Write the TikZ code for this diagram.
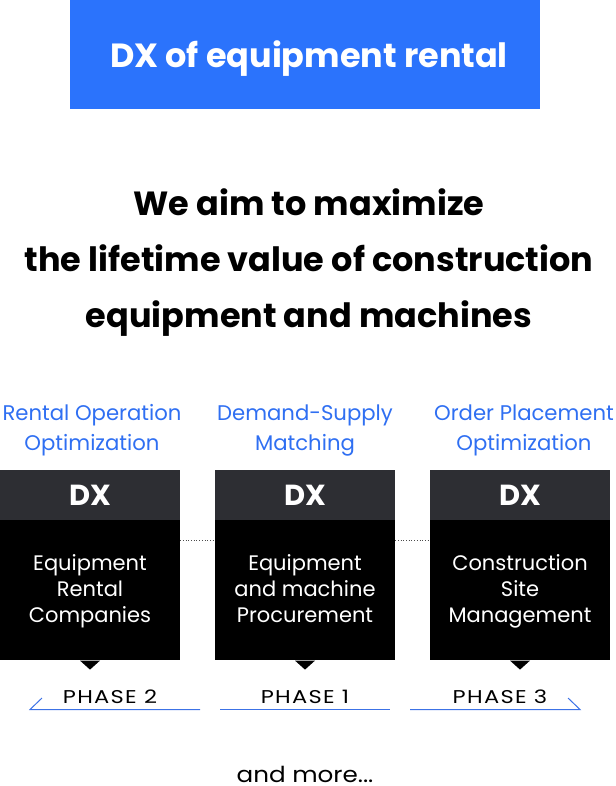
\documentclass[tikz,border=0pt]{standalone}
\usepackage{fontspec}
\setmainfont{Poppins}
\usetikzlibrary{positioning}
\definecolor{dxblue}{HTML}{2B73FC}
\definecolor{lblblue}{HTML}{2F6FF2}
\definecolor{hdr}{HTML}{2D2E33}
\definecolor{lineblue}{HTML}{3C72E6}
\tikzset{
  hdrbox/.style={fill=hdr, minimum width=180pt, minimum height=50pt, inner sep=0pt},
  hdrtxt/.style={text=white, inner sep=0pt, anchor=base, font=\bfseries\fontsize{29}{29}\selectfont},
  bodybox/.style={fill=black, minimum width=180pt, minimum height=140pt, inner sep=0pt},
  bodytxt/.style={text=white, align=center, inner sep=0pt, anchor=base, font=\fontsize{21}{26}\selectfont},
  lbl/.style={text=lblblue, align=center, anchor=base, font=\fontsize{21.2}{30}\selectfont, inner sep=0pt},
  phasetxt/.style={anchor=base, font=\addfontfeature{FakeStretch=1.22,LetterSpace=7}\fontsize{18.5}{18.5}\selectfont, inner sep=0pt},
  phaseline/.style={draw=lineblue, line width=1pt},
  dotline/.style={draw=black!70, line width=0.7pt, dotted},
}
\begin{document}
\begin{tikzpicture}[x=1pt,y=-1pt]
\useasboundingbox (0,0) rectangle (615,786);
% top banner
\node[fill=dxblue, minimum width=470pt, minimum height=109pt, inner sep=0pt, anchor=north west] (banner) at (70,0) {};
\node[anchor=base, text=white, inner sep=0pt, font=\bfseries\fontsize{33.5}{33.5}\selectfont] (bannertxt) at (309,68) {DX of equipment rental};
% headline (base anchor = baseline of last line)
\node[align=center, anchor=base, font=\bfseries\fontsize{33.5}{56}\selectfont, inner sep=0pt] (headline) at (309,327) {We aim to maximize\\the lifetime value of construction\\equipment and machines};
% labels
\node[lbl] (l1) at (92,450) {Rental Operation\\Optimization};
\node[lbl] (l2) at (305,450) {Demand-Supply\\Matching};
\node[lbl] (l3) at (524,450) {Order Placement\\Optimization};
% boxes
\foreach \i/\x/\t in {1/90/{Equipment\\Rental\\Companies}, 2/305/{Equipment\\and machine\\Procurement}, 3/520/{Construction\\Site\\Management}} {
  \node[hdrbox] (h\i) at (\x,495) {};
  \node[hdrtxt] (hx\i) at (\x,505.5) {DX};
  \node[bodybox, anchor=north] (b\i) at (h\i.south) {};
  \node[bodytxt] (bt\i) at (\x,622) {\t};
  \fill (b\i.south)++(-10,0) -- ++(10,9) -- ++(10,-9) -- cycle;
}
\draw[dotline] (b1.east|-0,540) -- (b2.west|-0,540);
\draw[dotline] (b2.east|-0,540) -- (b3.west|-0,540);
% phases
\node[phasetxt] (p2) at (110,703) {PHASE 2};
\node[phasetxt] (p1) at (305,703) {PHASE 1};
\node[phasetxt] (p3) at (500,703) {PHASE 3};
\coordinate (a1) at (30,709.5); \coordinate (a2) at (200,709.5);
\coordinate (c1) at (220,709.5); \coordinate (c2) at (390,709.5);
\coordinate (d1) at (410,709.5); \coordinate (d2) at (580,709.5);
\draw[phaseline] (42,698) -- (a1) -- (a2);
\draw[phaseline] (c1) -- (c2);
\draw[phaseline] (d1) -- (d2) -- (568,698);
% and more
\node[anchor=base, font=\addfontfeature{FakeStretch=1.12}\fontsize{22}{22}\selectfont, inner sep=0pt] (more) at (305,782) {and more...};
\end{tikzpicture}
\end{document}
